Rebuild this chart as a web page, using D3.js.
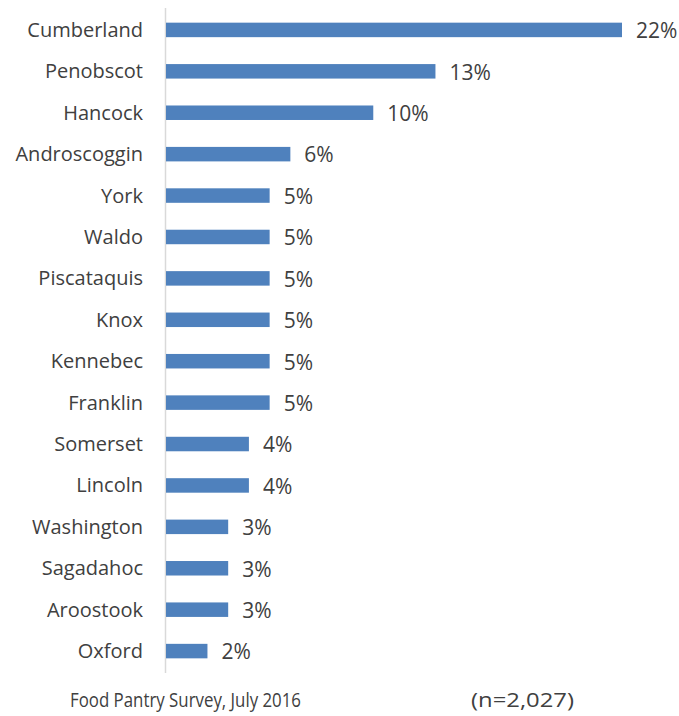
<!DOCTYPE html>
<html>
<head>
<meta charset="utf-8">
<script src="https://cdn.jsdelivr.net/npm/d3@7"></script>
<style>
  body { margin: 0; background: #fff; }
  text { font-family: "Open Sans", sans-serif; fill: #404040; }
</style>
</head>
<body>
<script>
  const counties = ['Cumberland', 'Penobscot', 'Hancock', 'Androscoggin', 'York', 'Waldo',
    'Piscataquis', 'Knox', 'Kennebec', 'Franklin', 'Somerset', 'Lincoln',
    'Washington', 'Sagadahoc', 'Aroostook', 'Oxford'];
  const shares = [22, 13, 10, 6, 5, 5, 5, 5, 5, 5, 4, 4, 3, 3, 3, 2];
  const source = 'Food Pantry Survey, July 2016';
  const sampleNote = '(n=2,027)';

  let width = 679;
  let height = 716;

  let svg = d3.select('body')
    .append('svg')
    .attr('width', width)
    .attr('height', height);

  let x = d3.scaleLinear()
    .domain([0, 22])
    .range([166, 622]);

  let y = d3.scaleBand()
    .domain(counties)
    .range([9, 672])
    .paddingInner(0.65)
    .paddingOuter(0.33);

  // axis line only, no ticks
  svg.append('line')
    .attr('x1', 165.5).attr('x2', 165.5)
    .attr('y1', 8).attr('y2', 673)
    .attr('stroke', '#d9d9d9')
    .attr('stroke-width', 1.5);

  svg.selectAll('.bar')
    .data(counties)
    .enter()
    .append('rect')
      .attr('class', 'bar')
      .attr('x', x(0))
      .attr('y', d => y(d))
      .attr('width', (d, i) => x(shares[i]) - x(0))
      .attr('height', y.bandwidth())
      .attr('fill', '#4f81bd');

  svg.selectAll('.cat')
    .data(counties)
    .enter()
    .append('text')
      .attr('class', 'cat')
      .attr('x', 143)
      .attr('y', d => y(d) + y.bandwidth() / 2)
      .attr('dy', '0.35em')
      .attr('text-anchor', 'end')
      .style('font-size', '20px')
      .text(d => d);

  svg.selectAll('.val')
    .data(counties)
    .enter()
    .append('text')
      .attr('class', 'val')
      .attr('x', (d, i) => x(shares[i]) + 14)
      .attr('y', d => y(d) + y.bandwidth() / 2 + 1)
      .attr('dy', '0.35em')
      .style('font-size', '21px')
      .text((d, i) => shares[i] + '%');

  svg.append('text')
    .attr('x', 70)
    .attr('y', 707)
    .attr('textLength', 231)
    .attr('lengthAdjust', 'spacingAndGlyphs')
    .style('font-size', '20px')
    .text(source);

  svg.append('text')
    .attr('x', 471)
    .attr('y', 707)
    .attr('textLength', 103)
    .attr('lengthAdjust', 'spacingAndGlyphs')
    .style('font-size', '20px')
    .text(sampleNote);
</script>
</body>
</html>
